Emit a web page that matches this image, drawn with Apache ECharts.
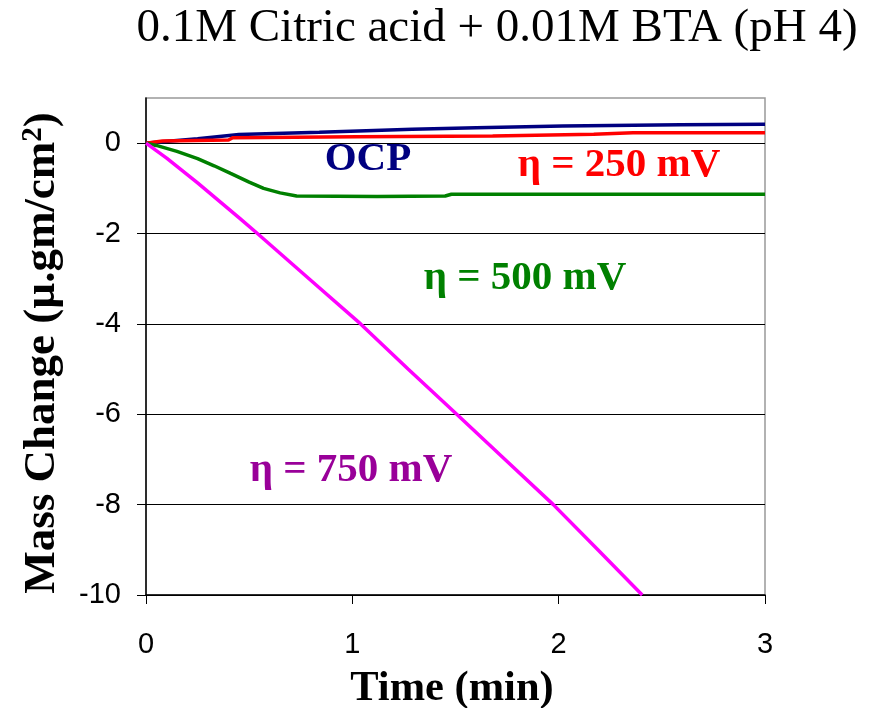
<!DOCTYPE html>
<html><head><meta charset="utf-8">
<script src="https://cdn.jsdelivr.net/npm/echarts@6/dist/echarts.min.js"></script>
<style>html,body{margin:0;padding:0;background:#fff}#c{width:892px;height:708px}</style>
</head><body><div id="c"></div>
<script>
// time (min), mass change (µg/cm²)
const ocpT   = [0, 0.05, 0.25, 0.45, 0.84, 1.03, 1.29, 1.60, 2.02, 2.59, 3.0];
const ocpV   = [0, 0.02, 0.10, 0.19, 0.24, 0.27, 0.31, 0.34, 0.38, 0.41, 0.42];
const e250T  = [0, 0.08, 0.40, 0.42, 1.02, 1.68, 2.17, 2.36, 3.0];
const e250V  = [0, 0.05, 0.07, 0.12, 0.14, 0.16, 0.20, 0.23, 0.23];
const e500T  = [0, 0.05, 0.15, 0.25, 0.33, 0.41, 0.50, 0.57, 0.65, 0.73, 1.12, 1.45, 1.48, 3.0];
const e500V  = [0, -0.05, -0.18, -0.34, -0.50, -0.67, -0.86, -1.00, -1.10, -1.17, -1.18, -1.17, -1.13, -1.13];
const e750T  = [0, 0.10, 0.25, 0.456, 0.54, 0.79, 1.04, 1.27, 1.506, 1.74, 1.974, 2.19, 2.405];
const e750V  = [0, -0.33, -0.88, -1.67, -2.0, -3.0, -4.0, -5.0, -6.0, -7.0, -8.0, -9.0, -10.0];
const yTicks = [-10, -8, -6, -4, -2, 0];
const xTicks = [0, 1, 2, 3];

const zip = (a, b) => a.map((v, i) => [v, b[i]]);
const chart = echarts.init(document.getElementById('c'));
const serif = '"Liberation Serif","Times New Roman",serif';
const sans = '"Liberation Sans",Arial,sans-serif';
function line(name, t, v, color) {
  return {name, type: 'line', data: zip(t, v), showSymbol: false, symbol: 'none',
    lineStyle: {color, width: 3.5}, clip: true, animation: false};
}
chart.setOption({
  animation: false,
  grid: {left: 146, right: 127, top: 98, bottom: 113, show: true, borderColor: '#999', borderWidth: 1.5, backgroundColor: '#fff'},
  xAxis: {type: 'value', min: 0, max: 3, interval: 1,
    axisLine: {show: true, onZero: false, lineStyle: {color: '#000', width: 1.5}},
    axisTick: {show: true, length: 9, lineStyle: {color: '#000'}},
    axisLabel: {color: '#000', fontFamily: sans, fontSize: 29, margin: 35,
      formatter: v => xTicks.includes(v) ? String(v) : ''},
    splitLine: {show: false}},
  yAxis: {type: 'value', min: -10, max: 1, interval: 2,
    axisLine: {show: true, onZero: false, lineStyle: {color: '#000', width: 1.5}},
    axisTick: {show: true, length: 9, lineStyle: {color: '#000'}, customValues: yTicks},
    axisLabel: {color: '#000', fontFamily: sans, fontSize: 29, margin: 25, customValues: yTicks,
      formatter: v => yTicks.includes(v) ? String(v) : ''},
    splitLine: {show: true, lineStyle: {color: ['#000','#000','#000','#000','#000','#000','#999'], width: 1.2}}},
  series: [
    line('OCP', ocpT, ocpV, '#000080'),
    line('250', e250T, e250V, '#ff0000'),
    line('500', e500T, e500V, '#008000'),
    line('750', e750T, e750V, '#ff00ff')
  ],
  graphic: [
    {type: 'text', x: 497, y: 5, style: {text: '0.1M Citric acid + 0.01M BTA (pH 4)', font: '47px ' + serif, fill: '#000', align: 'center', verticalAlign: 'top'}},
    {type: 'text', x: 452, y: 689, style: {text: 'Time (min)', font: 'bold 42.5px ' + serif, fill: '#000', align: 'center', verticalAlign: 'middle'}},
    {type: 'text', x: 42, y: 353, rotation: Math.PI / 2, style: {
      text: '{a|Mass Change (µ.gm/cm}{s|2}{a|)}', align: 'center', verticalAlign: 'middle',
      rich: {a: {font: 'bold 45px ' + serif, color: '#000'}, s: {font: 'bold 29px ' + serif, color: '#000', verticalAlign: 'top', padding: [0,0,14,0]}}}},
    {type: 'text', x: 368, y: 159, style: {text: 'OCP', font: 'bold 41px ' + serif, fill: '#000080', align: 'center', verticalAlign: 'middle'}},
    {type: 'text', x: 619, y: 165, style: {text: 'η = 250 mV', font: 'bold 41px ' + serif, fill: '#ff0000', align: 'center', verticalAlign: 'middle'}},
    {type: 'text', x: 525, y: 278, style: {text: 'η = 500 mV', font: 'bold 41px ' + serif, fill: '#008000', align: 'center', verticalAlign: 'middle'}},
    {type: 'text', x: 351, y: 470, style: {text: 'η = 750 mV', font: 'bold 41px ' + serif, fill: '#990099', align: 'center', verticalAlign: 'middle'}}
  ]
});
</script></body></html>
